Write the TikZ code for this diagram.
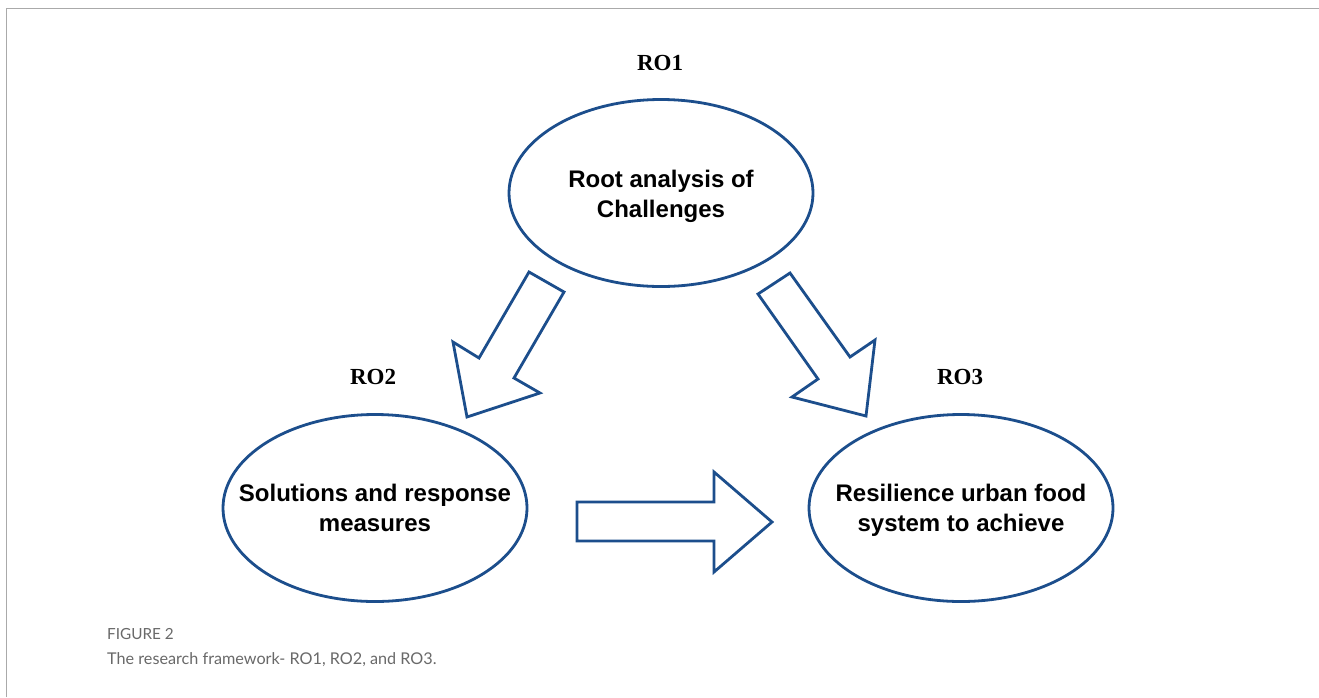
\documentclass[tikz,border=0pt]{standalone}
\usepackage{fontspec}
\setmainfont{Liberation Serif}
\setsansfont{Liberation Sans}
\newfontfamily\capfont{Lato}
\usetikzlibrary{shapes.geometric}
\definecolor{dblue}{RGB}{28,78,140}
\definecolor{framegray}{RGB}{170,170,170}
\definecolor{capgray}{RGB}{105,105,105}
\tikzset{
  oval/.style={ellipse, draw=dblue, line width=2.8pt, minimum width=304pt, minimum height=187pt, inner sep=0pt},
  ovaltext/.style={align=center, font=\sffamily\bfseries\fontsize{24}{30}\selectfont, inner sep=0pt},
  rolabel/.style={font=\rmfamily\bfseries\fontsize{23}{26}\selectfont, inner sep=0pt},
  blockarrow/.style={draw=dblue, line width=2.8pt, line join=miter, fill=white},
  framestyle/.style={draw=framegray, line width=1.6pt}
}
\begin{document}
\begin{tikzpicture}[x=1pt,y=-1pt]
\useasboundingbox (0,0) rectangle (1319,697);
\fill[white] (0,0) rectangle (1319,697);
% frame
\draw[framestyle] (6.5,697) -- (6.5,8.5) -- (1319,8.5);
% ellipses
\node[oval] (e1) at (661,193) {};
\node[oval] (e2) at (375,508) {};
\node[oval] (e3) at (961,508) {};
\node[ovaltext] (t1) at ([yshift=-3pt]e1.center) {Root analysis of\\Challenges};
\node[ovaltext] (t2) at (e2) {Solutions and response\\measures};
\node[ovaltext] (t3) at ([yshift=-2pt]e3.center) {Resilience urban food\\system to achieve};
% RO labels
\node[rolabel] (ro1) at (660,63) {RO1};
\node[rolabel] (ro2) at (373,377) {RO2};
\node[rolabel] (ro3) at (960,377) {RO3};
% block arrows
\draw[blockarrow] (529,272) -- (564,292) -- (514,378) -- (540,393) -- (467,417) -- (453,342) -- (479,358) -- cycle;
\draw[blockarrow] (790,273) -- (850,357) -- (875,340) -- (866,416) -- (792,397) -- (818,379) -- (758,294) -- cycle;
\draw[blockarrow] (577,502) -- (714,502) -- (714,472) -- (772,522) -- (714,572) -- (714,541) -- (577,541) -- cycle;
% caption
\node[anchor=base west, inner sep=0pt, text=capgray, font=\capfont\fontsize{15.3}{18}\selectfont] (fig) at (107,639) {FIGURE 2};
\node[anchor=base west, inner sep=0pt, text=capgray, font=\capfont\fontsize{16.2}{20}\selectfont] (cap) at (107,664) {The research framework- RO1, RO2, and RO3.};
\end{tikzpicture}
\end{document}
